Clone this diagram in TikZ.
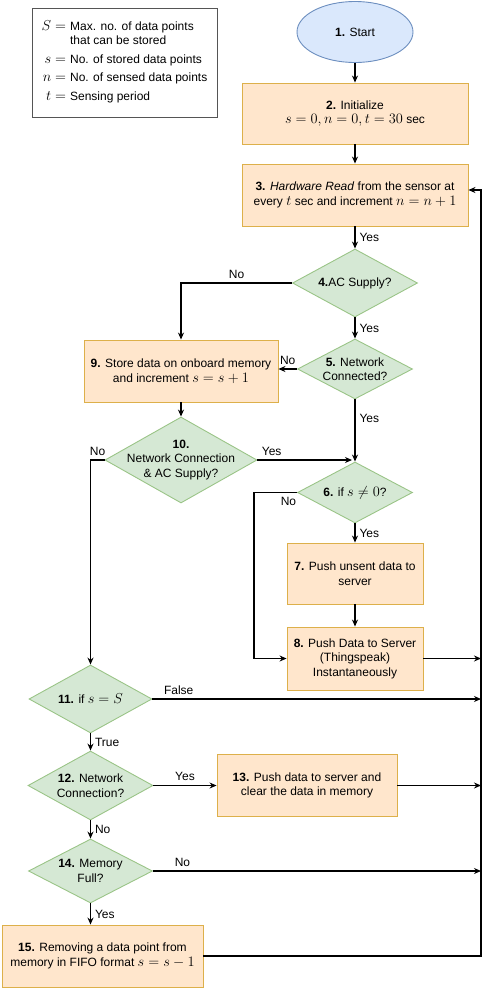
\documentclass[tikz,border=0pt]{standalone}
\usepackage{amsmath,amssymb}
\usepackage{fontspec}
\setmainfont{Liberation Sans}
\usepackage{tikz}
\usetikzlibrary{shapes.geometric,arrows.meta}
\usepackage{xcolor}
\definecolor{startfill}{HTML}{DAE8FC}
\definecolor{startline}{HTML}{6C8EBF}
\definecolor{boxfill}{HTML}{FFE6CC}
\definecolor{boxline}{HTML}{DDB04A}
\definecolor{decfill}{HTML}{D5E8D4}
\definecolor{decline}{HTML}{9AC487}
\definecolor{legline}{HTML}{555555}
\newcommand{\mth}[1]{{\fontsize{14.5}{14.5}\selectfont$#1$}}

\begin{document}
\begin{tikzpicture}[x=1pt,y=-1pt,
    every node/.style={font=\fontsize{12}{14.5}\selectfont},
    proc/.style={rectangle,draw=boxline,fill=boxfill,line width=0.9pt,align=center,inner sep=2pt},
    dec/.style={diamond,draw=decline,fill=decfill,line width=0.9pt,inner sep=0pt},
    declbl/.style={align=center},
    flow/.style={->,line width=1.1pt},
    lbl/.style={inner sep=4pt},
    >={Stealth[length=7pt,width=6pt]}]
            \useasboundingbox (0,0) rectangle (484,988);
            % legend
            \node[draw=legline,line width=0.8pt,minimum width=185pt,minimum height=109pt,inner sep=0pt] (legend) at (124.5,62.5){%
                \begin{tabular}{@{}r@{\hspace{4pt}}l@{}}
                \mth{S=} & Max. no. of data points\\
                 & that can be stored\\[4pt]
                \mth{s=} & No. of stored data points\\[4pt]
                \mth{n=} & No. of sensed data points\\[4pt]
                \mth{t=} & Sensing period
                \end{tabular}};
            % main column
            \node[ellipse,draw=startline,fill=startfill,line width=0.9pt,minimum width=116pt,minimum height=61pt,inner sep=0pt] (start) at (355,32){\textbf{1.} Start};
            \node[proc,minimum width=226pt,minimum height=61pt] (b2) at (355,113.5){\textbf{2.} Initialize\\\mth{s=0,n=0,t=30} sec};
            \node[proc,minimum width=226pt,minimum height=62pt] (b3) at (355,195){\textbf{3.} \textit{Hardware Read} from the sensor at\\every \mth{t} sec and increment \mth{n=n+1}};
            \node[dec,minimum width=125pt,minimum height=68pt,label={[declbl]center:{\textbf{4.}AC Supply?}}] (d4) at (355,283){};
            \node[dec,minimum width=115pt,minimum height=60pt,label={[declbl]center:{\textbf{5.} Network\\Connected?}}] (d5) at (355,369){};
            \node[proc,minimum width=194pt,minimum height=62pt] (b9) at (181,371){\textbf{9.} Store data on onboard memory\\and increment \mth{s=s+1}};
            \node[dec,minimum width=152pt,minimum height=86pt,label={[declbl]center:{\textbf{10.}\\Network Connection\\\& AC Supply?}}] (d10) at (181,460){};
            \node[dec,minimum width=115pt,minimum height=61pt,label={[declbl]center:{\textbf{6.} if \mth{s\neq 0}?}}] (d6) at (355,492.5){};
            \node[proc,minimum width=136pt,minimum height=61pt] (b7) at (355,573.5){\textbf{7.} Push unsent data to\\server};
            \node[proc,minimum width=136pt,minimum height=63pt] (b8) at (355,658.5){\textbf{8.} Push Data to Server\\(Thingspeak)\\Instantaneously};
            % left column
            \node[dec,minimum width=123pt,minimum height=68pt,label={[declbl]center:{\textbf{11.} if \mth{s=S}}}] (d11) at (90.5,699){};
            \node[dec,minimum width=125pt,minimum height=69pt,label={[declbl]center:{\textbf{12.} Network\\Connection?}}] (d12) at (90.5,785.5){};
            \node[proc,minimum width=180pt,minimum height=62pt] (b13) at (307,785.5){\textbf{13.} Push data to server and\\clear the data in memory};
            \node[dec,minimum width=124pt,minimum height=64pt,label={[declbl]center:{\textbf{14.} Memory\\Full?}}] (d14) at (90.5,871){};
            \node[proc,minimum width=201pt,minimum height=62pt] (b15) at (102.5,956){\textbf{15.} Removing a data point from\\memory in FIFO format \mth{s=s-1}};
            % helper points
            \coordinate (rail) at (481,190);
            \coordinate (j10) at (352,460);
            \coordinate (k6) at (254,492.5);
            % connectors
            \draw[flow] (start)--(b2);
            \draw[flow] (b2)--(b3);
            \draw[flow] (b3)--node[lbl,right]{Yes}(d4);
            \draw[flow] (d4.west)-|node[lbl,above,pos=0.25]{No}(b9.north);
            \draw[flow] (d4)--node[lbl,right]{Yes}(d5);
            \draw[flow] (d5.west)--node[lbl,above]{No}(d5.west -| b9.east);
            \draw[flow] (d5)--node[lbl,right,pos=0.3]{Yes}(d6);
            \draw[flow] (b9)--(d10);
            \draw[flow] (d10.east)--node[lbl,above,pos=0.15]{Yes}(j10);
            \draw[flow] (d10.west)-|node[lbl,above,pos=0.25]{No}(d11.north);
            \draw[flow] (d6.west)--node[lbl,below,pos=0.2]{No}(k6)|-(b8.west);
            \draw[flow] (d6)--node[lbl,right]{Yes}(b7);
            \draw[flow] (b7)--(b8);
            \draw[flow] (b8.east)--(b8.east -| rail);
            \draw[flow] (d11.east)--node[lbl,above,pos=0.08]{False}(d11.east -| rail);
            \draw[flow] (d11)--node[lbl,right]{True}(d12);
            \draw[flow] (d12.east)--node[lbl,above]{Yes}(b13.west);
            \draw[flow] (b13.east)--(b13.east -| rail);
            \draw[flow] (d12)--node[lbl,right]{No}(d14);
            \draw[flow] (d14.east)--node[lbl,above,pos=0.09]{No}(d14.east -| rail);
            \draw[flow] (d14.south)--node[lbl,right]{Yes}(d14.south |- b15.north);
            \draw[flow] (b15.east)-|(rail)--(b3.east |- rail);
        \end{tikzpicture}
\end{document}
